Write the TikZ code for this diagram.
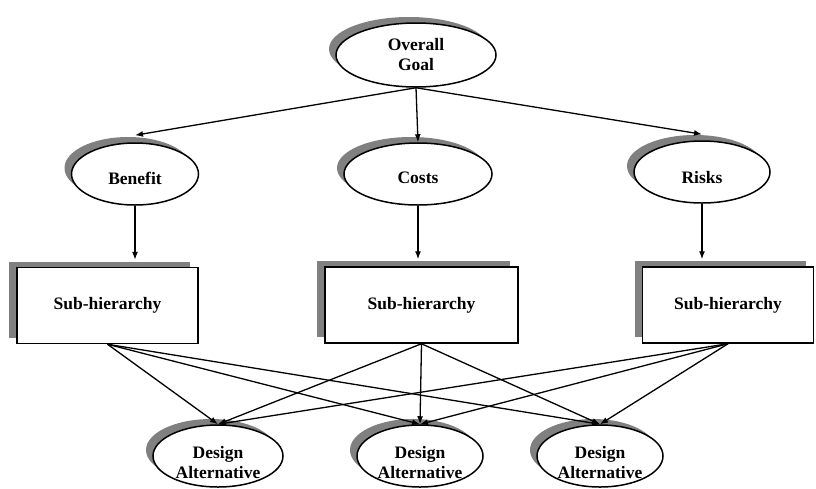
\documentclass[tikz,border=0pt]{standalone}
\usepackage{fontspec}
\setmainfont{Liberation Serif}
\usetikzlibrary{arrows.meta,shapes.geometric,shadows}
\colorlet{ShadowGray}{black!50}

\tikzset{
  oval/.style={ellipse, draw, line width=1.5pt, fill=white, inner sep=0pt,
    minimum height=62pt,
    drop shadow={shadow xshift=-7pt, shadow yshift=6pt, fill=ShadowGray, opacity=1}},
  subbox/.style={rectangle, draw, line width=1.5pt, fill=white, minimum height=76pt,
    font=\bfseries\fontsize{17.5}{20}\selectfont,
    drop shadow={shadow xshift=-8pt, shadow yshift=6pt, fill=ShadowGray, opacity=1}},
  ovaltext/.style={font=\bfseries\fontsize{17.5}{20}\selectfont, align=center},
  link/.style={line width=1.3pt, -{Latex[length=8pt,width=6pt]}}
}

\begin{document}
\begin{tikzpicture}[x=1pt,y=-1pt]
  \useasboundingbox (0,0) rectangle (816,488);

  % top
  \node[oval, minimum width=160pt, minimum height=64pt,
        label={[ovaltext]center:Overall\\Goal}] (goal) at (416,55) {};

  % criteria
  \node[oval, minimum width=127pt,
        label={[ovaltext,yshift=-4pt]center:Benefit}] (benefit) at (135,174) {};
  \node[oval, minimum width=148pt,
        label={[ovaltext,yshift=-4pt]center:Costs}] (costs) at (418,174) {};
  \node[oval, minimum width=136pt,
        label={[ovaltext,yshift=-6pt]center:Risks}] (risks) at (702,172) {};

  % sub-hierarchies
  \node[subbox, minimum width=181pt] (box1) at (107.5,305.5) {Sub-hierarchy};
  \node[subbox, minimum width=193pt] (box2) at (421.5,305) {Sub-hierarchy};
  \node[subbox, minimum width=171pt] (box3) at (728,305) {Sub-hierarchy};

  % alternatives
  \node[oval, minimum width=130pt,
        label={[ovaltext,yshift=-7pt]center:Design\\Alternative}] (alt1) at (218,456) {};
  \node[oval, minimum width=126pt,
        label={[ovaltext,yshift=-7pt]center:Design\\Alternative}] (alt2) at (420,456) {};
  \node[oval, minimum width=126pt,
        label={[ovaltext,yshift=-7pt]center:Design\\Alternative}] (alt3) at (600,456) {};

  \draw[link] (goal.south) -- ([yshift=7pt]benefit.north);
  \draw[link] (goal.south) -- (costs.north);
  \draw[link] (goal.south) -- ([yshift=6pt]risks.north);

  \draw[link, shorten >=7pt] (benefit.south) -- (benefit.south |- box1.north);
  \draw[link, shorten >=7pt] (costs.south) -- (costs.south |- box2.north);
  \draw[link, shorten >=7pt] (risks.south) -- (risks.south |- box3.north);

  \foreach \b in {box1,box2,box3}
    \foreach \a in {alt1,alt2,alt3}
      \draw[link] (\b.south) -- (\a.north);
\end{tikzpicture}
\end{document}
